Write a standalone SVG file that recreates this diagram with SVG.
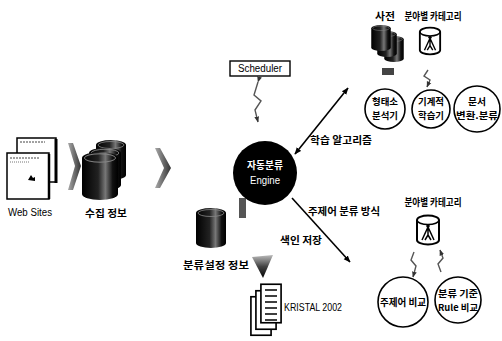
<svg xmlns="http://www.w3.org/2000/svg" width="502" height="341" viewBox="0 0 502 341">
  <style>
    .kr { font-family: "Noto Sans CJK KR", "Noto Sans", sans-serif; font-weight: bold; font-size: 10px; fill: #000; }
    .sm { font-size: 9px; }
    .en { font-family: "Liberation Sans", Arial, sans-serif; font-size: 10px; fill: #000; }
    .wt { fill: #fff; }
    .bubble { fill: #fff; stroke: #000; stroke-width: 1.6; }
    .link { stroke: #000; stroke-width: 1.6; fill: none; }
    .zig { stroke: #555; stroke-width: 1.4; fill: none; }
  </style>
  <defs>
    <linearGradient id="dbShade" x1="0" y1="0" x2="1" y2="0">
      <stop offset="0" stop-color="#000"/>
      <stop offset="0.45" stop-color="#222"/>
      <stop offset="0.65" stop-color="#777"/>
      <stop offset="0.85" stop-color="#111"/>
      <stop offset="1" stop-color="#000"/>
    </linearGradient>
    <linearGradient id="chev" x1="0" y1="0" x2="1" y2="0">
      <stop offset="0" stop-color="#aaa"/>
      <stop offset="1" stop-color="#333"/>
    </linearGradient>
    <linearGradient id="funnel" x1="0" y1="0" x2="0" y2="1">
      <stop offset="0" stop-color="#bbb"/>
      <stop offset="0.5" stop-color="#444"/>
      <stop offset="1" stop-color="#000"/>
    </linearGradient>
    <!-- dark database cylinder -->
    <symbol id="db" viewBox="0 0 30 40">
      <path d="M0,5 A15,5 0 0 1 30,5 V35 A15,5 0 0 1 0,35 Z" fill="url(#dbShade)"/>
      <ellipse cx="15" cy="5" rx="13" ry="3.5" fill="none" stroke="#888" stroke-width="0.8"/>
    </symbol>
    <!-- category cylinder icon -->
    <symbol id="cat" viewBox="0 0 26 32">
      <path d="M2,6 A11,4.5 0 0 1 24,6 V26 A11,4.5 0 0 1 2,26 Z" fill="#fff" stroke="#000" stroke-width="2"/>
      <path d="M2,6 A11,4.5 0 0 0 24,6" fill="none" stroke="#000" stroke-width="1.6"/>
      <circle cx="13" cy="12" r="1.8" fill="#000"/>
      <path d="M13,13 L7,26 M13,13 L19,26 M13,13 V21 L10,26 M13,21 L16,26" fill="none" stroke="#000" stroke-width="1.5"/>
    </symbol>
    <!-- stacked document sheet -->
    <symbol id="sheet" viewBox="0 0 24 44">
      <rect x="1" y="1" width="22" height="42" fill="#fff" stroke="#000" stroke-width="1.8"/>
    </symbol>
    <marker id="head" viewBox="0 0 10 10" refX="9" refY="5" markerWidth="7" markerHeight="7" orient="auto-start-reverse" markerUnits="userSpaceOnUse">
      <path d="M0,1 L10,5 L0,9 Z" fill="#000"/>
    </marker>
    <marker id="zhead" viewBox="0 0 10 10" refX="9" refY="5" markerWidth="6" markerHeight="6" orient="auto" markerUnits="userSpaceOnUse">
      <path d="M0,1 L10,5 L0,9 Z" fill="#333"/>
    </marker>
  </defs>

  <rect width="502" height="341" fill="#fff"/>

  <!-- connectors -->
  <g id="connectors">
    <path class="link" d="M295,154 L348,88" marker-start="url(#head)" marker-end="url(#head)"/>
    <path class="link" d="M292,198 L350,262" marker-end="url(#head)"/>
    <path class="zig" d="M258,82 L254,95 L261,101 L255,110 L258,122" marker-start="url(#zhead)" marker-end="url(#zhead)"/>
    <path class="zig" d="M428,70 L424,76 L430,80 L427,87" marker-end="url(#zhead)"/>
    <path class="zig" d="M414,252 L411,260 L416,266 L413,277" marker-end="url(#zhead)"/>
    <path class="zig" d="M441,272 L438,264 L443,258 L440,250" marker-end="url(#zhead)"/>
    <polygon points="68,143 73,143 81,166 73,190 68,190 75,166" fill="url(#chev)"/>
    <polygon points="155,148 160,148 171,168 160,188 155,188 164,168" fill="url(#chev)"/>
    <rect x="239" y="198" width="7" height="20" fill="#555"/>
    <polygon points="252,257 273,255 263,278" fill="url(#funnel)"/>
  </g>

  <!-- web sites -->
  <g id="websites">
    <rect x="17" y="138" width="39" height="44" fill="#fff" stroke="#000" stroke-width="1.5"/>
    <line x1="56" y1="139" x2="56" y2="183" stroke="#000" stroke-width="3"/>
    <line x1="20" y1="142" x2="45" y2="142" stroke="#444" stroke-width="1" stroke-dasharray="2,1"/>
    <rect x="7" y="153" width="42" height="46" fill="#fff" stroke="#000" stroke-width="1.5"/>
    <line x1="49" y1="154" x2="49" y2="199" stroke="#000" stroke-width="2.5"/>
    <line x1="10" y1="158" x2="40" y2="158" stroke="#444" stroke-width="1" stroke-dasharray="2,1"/>
    <line x1="10" y1="162" x2="30" y2="162" stroke="#777" stroke-width="1" stroke-dasharray="1,1"/>
    <path d="M28,180 l3,-5 l2,3 l2,-1 v4 z" fill="#000"/>
    <text class="en" x="30" y="216" text-anchor="middle" textLength="44" lengthAdjust="spacingAndGlyphs">Web Sites</text>
  </g>

  <!-- collected data -->
  <g id="collected">
    <use href="#db" x="96" y="140" width="30" height="40"/>
    <use href="#db" x="89" y="147" width="32" height="44"/>
    <use href="#db" x="82" y="152" width="36" height="48"/>
    <text class="kr" x="106" y="217" text-anchor="middle" textLength="42" lengthAdjust="spacingAndGlyphs">수집 정보</text>
  </g>

  <!-- scheduler -->
  <g id="scheduler">
    <rect x="230" y="61" width="60" height="15" fill="#fff" stroke="#000" stroke-width="1.4"/>
    <text class="en" x="260" y="72" text-anchor="middle" textLength="44" lengthAdjust="spacingAndGlyphs">Scheduler</text>
  </g>

  <!-- engine -->
  <g id="engine">
    <circle cx="265" cy="173" r="32" fill="#000"/>
    <text class="kr wt" x="265" y="169" text-anchor="middle" textLength="36" lengthAdjust="spacingAndGlyphs">자동분류</text>
    <text class="en wt" x="265" y="184" text-anchor="middle" textLength="30" lengthAdjust="spacingAndGlyphs">Engine</text>
  </g>

  <!-- classification settings -->
  <g id="settings">
    <use href="#db" x="196" y="204" width="30" height="48"/>
    <text class="kr" x="216" y="269" text-anchor="middle" textLength="66" lengthAdjust="spacingAndGlyphs">분류설정 정보</text>
  </g>

  <!-- index storage -->
  <g id="index">
    <text class="kr" x="301" y="244" text-anchor="middle" textLength="42" lengthAdjust="spacingAndGlyphs">색인 저장</text>
  </g>

  <!-- KRISTAL -->
  <g id="kristal">
    <use href="#sheet" x="250" y="295" width="22" height="42"/>
    <use href="#sheet" x="255" y="289" width="22" height="42"/>
    <use href="#sheet" x="260" y="282" width="22" height="43"/>
    <path d="M265,290 h12 M265,296 h12 M265,302 h12 M265,308 h12 M265,314 h12 M265,320 h12" stroke="#000" stroke-width="1.4"/>
    <text class="en" x="284" y="311" textLength="58" lengthAdjust="spacingAndGlyphs">KRISTAL 2002</text>
  </g>

  <!-- learning algorithm branch -->
  <g id="learning-label">
    <text class="kr" x="341" y="144" text-anchor="middle" textLength="62" lengthAdjust="spacingAndGlyphs">학습 알고리즘</text>
  </g>
  <g id="dictionary">
    <text class="kr" x="385" y="20" text-anchor="middle" textLength="20" lengthAdjust="spacingAndGlyphs">사전</text>
    <use href="#db" x="383" y="36" width="22" height="26"/>
    <use href="#db" x="376" y="31" width="22" height="26"/>
    <use href="#db" x="370" y="25" width="22" height="26"/>
    <rect x="382" y="68" width="12" height="7" fill="#444"/>
  </g>
  <g id="category-top">
    <text class="kr" x="433" y="20" text-anchor="middle" textLength="57" lengthAdjust="spacingAndGlyphs">분야별 카테고리</text>
    <use href="#cat" x="418" y="26" width="24" height="30"/>
  </g>
  <g id="morph">
    <circle class="bubble" cx="385" cy="109" r="20"/>
    <text class="kr sm" x="385" y="105" text-anchor="middle" textLength="26" lengthAdjust="spacingAndGlyphs">형태소</text>
    <text class="kr sm" x="385" y="119" text-anchor="middle" textLength="26" lengthAdjust="spacingAndGlyphs">분석기</text>
  </g>
  <g id="learner">
    <circle class="bubble" cx="431" cy="109" r="19"/>
    <text class="kr sm" x="431" y="105" text-anchor="middle" textLength="26" lengthAdjust="spacingAndGlyphs">기계적</text>
    <text class="kr sm" x="431" y="119" text-anchor="middle" textLength="26" lengthAdjust="spacingAndGlyphs">학습기</text>
  </g>
  <g id="converter">
    <circle class="bubble" cx="477" cy="109" r="23"/>
    <text class="kr sm" x="477" y="105" text-anchor="middle" textLength="18" lengthAdjust="spacingAndGlyphs">문서</text>
    <text class="kr sm" x="477" y="119" text-anchor="middle" textLength="42" lengthAdjust="spacingAndGlyphs">변환.분류</text>
  </g>

  <!-- keyword classification branch -->
  <g id="keyword-label">
    <text class="kr" x="344" y="215" text-anchor="middle" textLength="72" lengthAdjust="spacingAndGlyphs">주제어 분류 방식</text>
  </g>
  <g id="category-bottom">
    <text class="kr" x="433" y="206" text-anchor="middle" textLength="57" lengthAdjust="spacingAndGlyphs">분야별 카테고리</text>
    <use href="#cat" x="415" y="214" width="26" height="32"/>
  </g>
  <g id="keyword-compare">
    <circle class="bubble" cx="403" cy="302" r="25"/>
    <text class="kr" x="403" y="306" text-anchor="middle" textLength="46" lengthAdjust="spacingAndGlyphs">주제어 비교</text>
  </g>
  <g id="rule-compare">
    <circle class="bubble" cx="458" cy="300" r="23"/>
    <text class="kr sm" x="458" y="297" text-anchor="middle" textLength="40" lengthAdjust="spacingAndGlyphs">분류 기준</text>
    <text class="kr sm" x="458" y="311" text-anchor="middle" textLength="40" lengthAdjust="spacingAndGlyphs">Rule 비교</text>
  </g>
</svg>
